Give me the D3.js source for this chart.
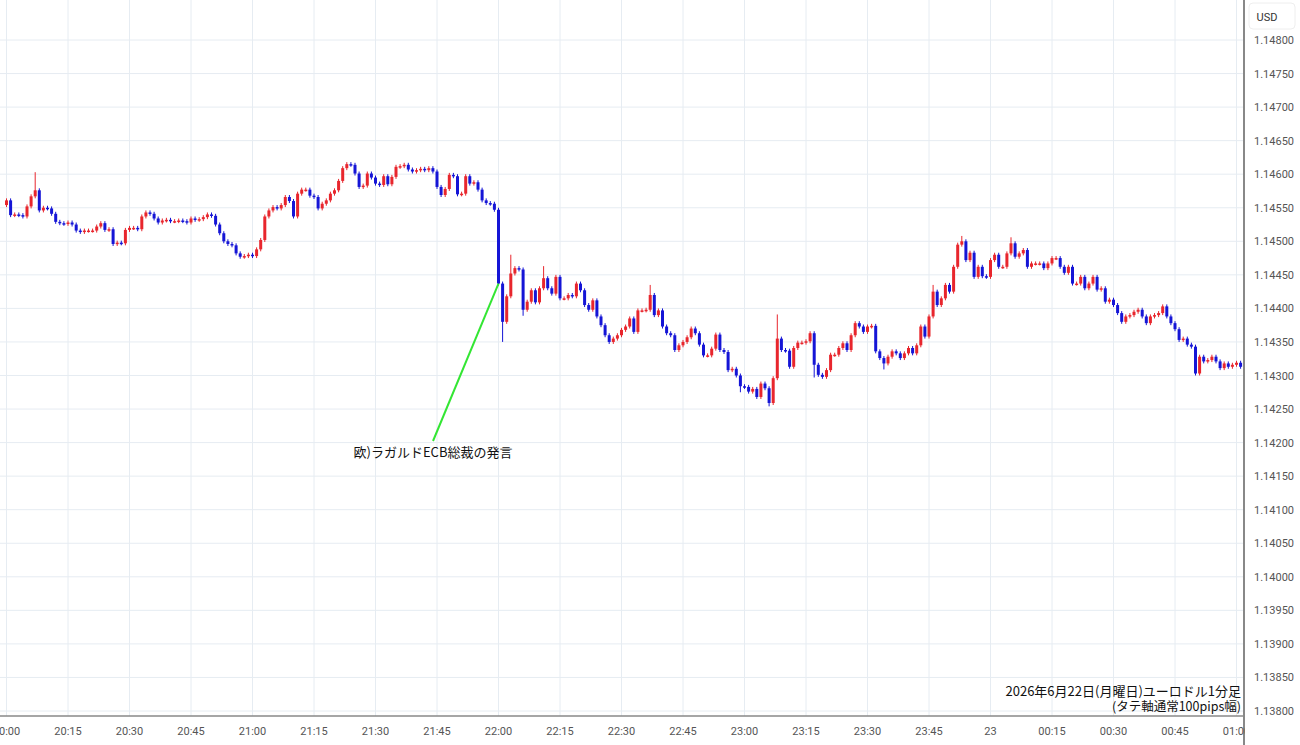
<!DOCTYPE html>
<html><head><meta charset="utf-8">
<script src="https://cdn.jsdelivr.net/npm/d3@7"></script>
<style>body{margin:0;background:#fff;font-family:"Noto Sans CJK JP","Noto Sans",sans-serif}</style>
</head><body><svg id="c" width="1300" height="745"></svg>
<script>
// closes per minute starting 20:00, in units of 0.00001 above 1.14000
const closes = [561,539,540,539,537,552,567,576,546,550,549,541,529,527,526,528,525,516,514,516,
516,516,522,527,517,518,496,498,497,517,520,520,518,537,543,541,534,528,531,532,
530,530,531,530,528,534,532,533,536,540,538,525,512,500,496,494,482,477,478,480,
478,488,502,537,546,551,549,554,566,560,537,571,577,577,568,566,549,556,561,571,
576,590,609,615,614,601,581,583,601,595,586,584,597,585,596,611,612,614,607,604,
606,608,606,609,604,581,569,578,599,597,570,571,597,586,588,577,561,557,556,547,
437,380,418,452,460,458,398,410,427,409,430,445,430,422,447,415,415,420,418,437,
427,405,398,412,388,375,360,350,355,360,368,373,385,365,397,397,398,420,390,397,
373,363,360,338,345,350,357,370,363,346,330,330,340,361,338,335,308,310,300,284,
283,276,280,268,288,281,259,296,355,338,337,313,341,349,349,351,363,316,301,298,
308,331,331,341,348,338,360,378,373,365,373,374,336,326,318,328,336,333,326,333,
341,333,345,373,358,388,425,405,415,435,425,462,495,500,472,483,447,462,448,447,
472,480,462,462,482,497,477,482,487,462,467,467,467,460,467,475,475,462,453,462,
437,437,447,430,437,447,428,430,410,413,405,393,380,388,390,395,398,388,378,388,
390,393,403,388,378,369,353,355,346,343,303,328,321,323,328,321,311,318,313,316,
319,313];
const firstOpen = 554;
const openAt = {120:547};
const wickHigh = {7:600,123:477,188:388,131:460,157:432,226:432,233:505,245:503};
const wickLow = {121:353,126:392,186:257,179:278,197:300,214:312};
const xTicks = ["20:00","20:15","20:30","20:45","21:00","21:15","21:30","21:45","22:00","22:15","22:30","22:45","23:00","23:15","23:30","23:45","23","00:15","00:30","00:45","01:00"];
const yTicks = [1.148,1.1475,1.147,1.1465,1.146,1.1455,1.145,1.1445,1.144,1.1435,1.143,1.1425,1.142,1.1415,1.141,1.1405,1.14,1.1395,1.139,1.1385,1.138];

const svg = d3.select("#c");
const plotR = 1244, axisY = 716;
const x = d3.scaleLinear().domain([0,300]).range([6.5,1236.5]);
const y = d3.scaleLinear().domain([1.138,1.148]).range([711,40]);
const pv = v => 1.14 + v/100000;

svg.append("defs").append("clipPath").attr("id","clip").append("rect").attr("x",0).attr("y",0).attr("width",plotR).attr("height",axisY);
const g = svg.append("g");
g.selectAll(".hg").data(yTicks).join("line").attr("x1",0).attr("x2",plotR).attr("y1",d=>y(d)).attr("y2",d=>y(d)).attr("stroke","#e6ecf2").attr("stroke-width",1);
g.selectAll(".vg").data(xTicks).join("line").attr("x1",(d,i)=>x(i*15)).attr("x2",(d,i)=>x(i*15)).attr("y1",0).attr("y2",axisY).attr("stroke","#e6ecf2").attr("stroke-width",1);

const data = closes.map((c,i)=>{
  const o = openAt[i]!==undefined ? openAt[i] : (i===0?firstOpen:closes[i-1]);
  let hi = Math.max(o,c), lo = Math.min(o,c);
  if (wickHigh[i]!==undefined) hi = wickHigh[i];
  if (wickLow[i]!==undefined) lo = wickLow[i];
  return {i,o,c,hi,lo};
});
const cg = svg.append("g").attr("clip-path","url(#clip)");
const col = d => d.c >= d.o ? "#e8262d" : "#1515d6";
cg.selectAll(".w").data(data).join("line")
  .attr("x1",d=>x(d.i)).attr("x2",d=>x(d.i))
  .attr("y1",d=>y(pv(d.hi))-2).attr("y2",d=>y(pv(d.lo))+2)
  .attr("stroke",col).attr("stroke-width",1);
cg.selectAll(".b").data(data).join("rect")
  .attr("x",d=>x(d.i)-1.5).attr("width",3)
  .attr("y",d=>y(pv(Math.max(d.o,d.c))))
  .attr("height",d=>Math.max(1.5,Math.abs(y(pv(d.o))-y(pv(d.c)))))
  .attr("fill",col);

svg.append("line").attr("x1",plotR).attr("x2",plotR).attr("y1",0).attr("y2",745).attr("stroke","#888").attr("stroke-width",2);
svg.append("line").attr("x1",0).attr("x2",plotR).attr("y1",axisY).attr("y2",axisY).attr("stroke","#888").attr("stroke-width",1.5);

svg.append("g").selectAll("text").data(xTicks).join("text")
  .attr("x",(d,i)=>x(i*15)).attr("y",735).attr("text-anchor","middle")
  .attr("font-size",11).attr("fill","#555").attr("font-family","Roboto,'Noto Sans',sans-serif").text(d=>d);
svg.append("rect").attr("x",plotR+1).attr("y",717).attr("width",56).attr("height",28).attr("fill","#fff");
svg.append("g").selectAll("text").data(yTicks).join("text")
  .attr("x",1254).attr("y",d=>y(d)+4).attr("font-size",11).attr("fill","#555")
  .attr("font-family","Roboto,'Noto Sans',sans-serif").text(d=>d.toFixed(5));
svg.append("rect").attr("x",1249).attr("y",3).attr("width",46).attr("height",26).attr("rx",4).attr("fill","#fff").attr("stroke","#eee");
svg.append("text").attr("x",1267).attr("y",21).attr("text-anchor","middle").attr("font-size",11).attr("fill","#333").attr("font-family","Roboto,sans-serif").text("USD");

svg.append("line").attr("x1",433).attr("y1",441).attr("x2",x(120)).attr("y2",y(pv(437))).attr("stroke","#33e633").attr("stroke-width",2);
svg.append("text").attr("x",433).attr("y",457).attr("text-anchor","middle").attr("font-size",13).attr("fill","#111").text("欧)ラガルドECB総裁の発言");
svg.append("text").attr("x",1241).attr("y",696).attr("text-anchor","end").attr("font-size",13).attr("fill","#111").text("2026年6月22日(月曜日)ユーロドル1分足");
svg.append("text").attr("x",1241).attr("y",711).attr("text-anchor","end").attr("font-size",12.5).attr("fill","#111").text("(タテ軸通常100pips幅)");
</script></body></html>
